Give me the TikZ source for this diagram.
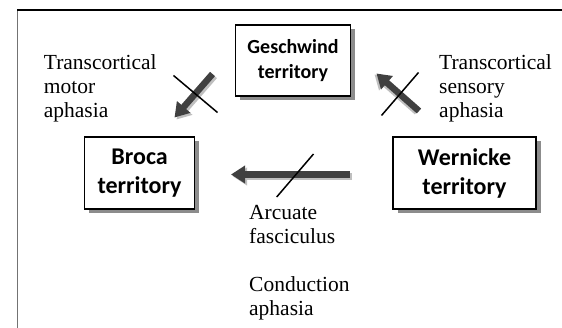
\documentclass[tikz,border=0pt]{standalone}
\usepackage{fontspec}
\newfontfamily\boxfont{Carlito}
\newfontfamily\lblfont{Liberation Serif}
\usetikzlibrary{arrows.meta,shadows}
\begin{document}
\begin{tikzpicture}[x=1pt,y=-1pt,
  terr/.style={draw=black,line width=1.3pt,fill=white,align=center,
    font=\boxfont\bfseries,inner sep=0pt,
    drop shadow={shadow xshift=4.5pt,shadow yshift=-4pt,fill=black!45,opacity=1}},
  lbl/.style={anchor=north west,inner sep=0pt,align=left,font=\lblfont\fontsize{21.5}{24}\selectfont},
  fat/.style={line width=6.5pt,draw=black!75,-{Triangle[length=14pt,width=17pt]}},
  fatshadow/.style={line width=6.5pt,draw=black!25,-{Triangle[length=14pt,width=17pt]}},
  cut/.style={line width=1.5pt,draw=black}]
\useasboundingbox (0,0) rectangle (562,328);
% frame
\coordinate (fr1) at (562,10);
\coordinate (fr2) at (17.3,10);
\coordinate (fr3) at (17.3,328);
\draw[line width=1.4pt,black!55] (fr2) -- (fr3);
\draw[line width=1.4pt,black] (fr1) -- (fr2);
% boxes
\node[terr,minimum width=115pt,minimum height=71pt,font=\boxfont\bfseries\fontsize{20}{24.5}\selectfont]
  (gesch) at (293,60.5) {Geschwind\\territory};
\node[terr,minimum width=110pt,minimum height=72pt,font=\boxfont\bfseries\fontsize{24}{29}\selectfont]
  (broca) at (139.6,173) {Broca\\territory};
\node[terr,minimum width=143pt,minimum height=72pt,font=\boxfont\bfseries\fontsize{24}{29}\selectfont]
  (wern) at (464.5,173) {Wernicke\\territory};
% arrow coordinates
\coordinate (hT) at (350,174.5);
\coordinate (hH) at (231,174.5);
\coordinate (lT) at (212.5,74);
\coordinate (lH) at (174.5,117.5);
\coordinate (rT) at (419,111);
\coordinate (rH) at (376.5,73.5);
% arrow shadows
\draw[fatshadow,transform canvas={xshift=2pt,yshift=-2pt}] (hT) -- (hH);
\draw[fatshadow,transform canvas={xshift=2pt,yshift=-2pt}] (lT) -- (lH);
\draw[fatshadow,transform canvas={xshift=-2pt,yshift=-1pt}] (rT) -- (rH);
% arrows
\draw[fat] (hT) -- (hH);
\draw[fat] (lT) -- (lH);
\draw[fat] (rT) -- (rH);
% cuts
\coordinate (c1a) at (173.5,75.5);
\coordinate (c1b) at (217.5,112.5);
\coordinate (c2a) at (381.5,115.5);
\coordinate (c2b) at (418.5,72.5);
\coordinate (c3a) at (276.7,197);
\coordinate (c3b) at (313.5,154);
\draw[cut] (c1a) -- (c1b);
\draw[cut] (c2a) -- (c2b);
\draw[cut] (c3a) -- (c3b);
% labels
\node[lbl] (tma) at (43.7,54.4) {Transcortical\\motor\\aphasia};
\node[lbl] (tsa) at (439,54.4) {Transcortical\\sensory\\aphasia};
\node[lbl] (arc) at (249,205.3) {Arcuate\\fasciculus};
\node[lbl] (cond) at (249,276.3) {Conduction\\aphasia};
\end{tikzpicture}
\end{document}
